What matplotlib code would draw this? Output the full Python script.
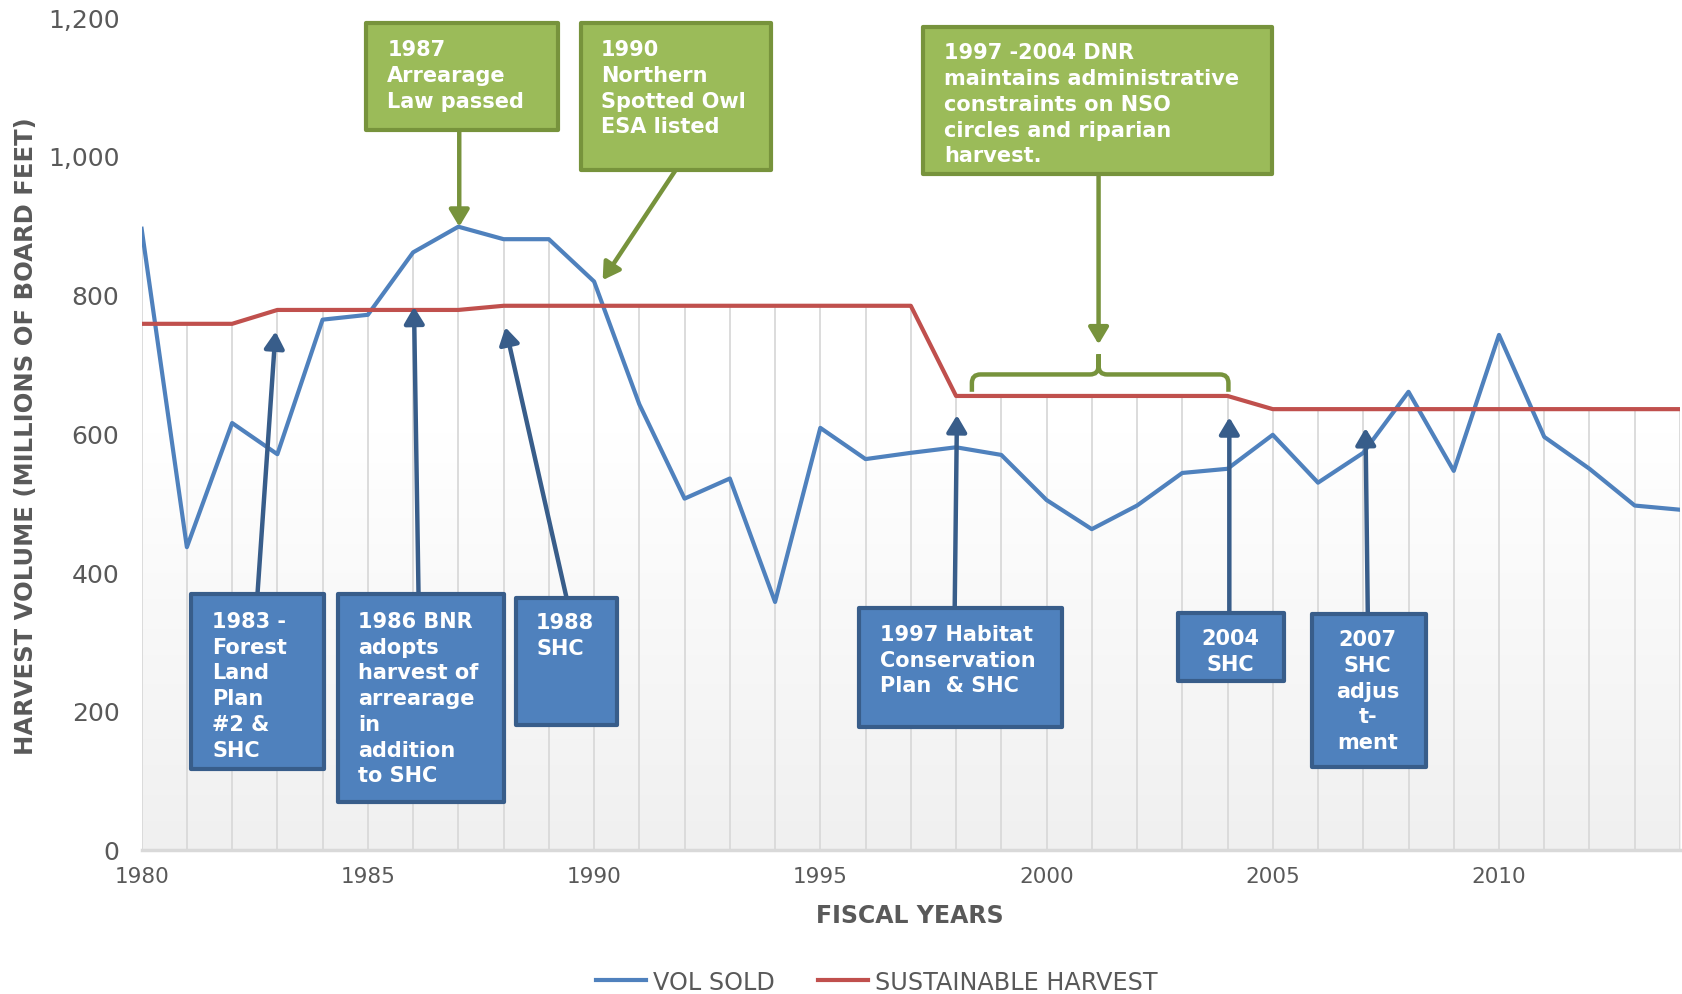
import matplotlib
matplotlib.use("Agg")
import matplotlib.pyplot as plt
import numpy as np
from matplotlib.patches import Rectangle, FancyArrowPatch, PathPatch
from matplotlib.path import Path
from matplotlib.colors import LinearSegmentedColormap

# ---------------- data ----------------
years = list(range(1980, 2015))
vol_sold = [895, 436, 615, 570, 764, 771, 861, 898, 880, 880,
            819, 642, 506, 535, 357, 608, 563, 572, 580, 569,
            504, 462, 496, 543, 549, 598, 529, 572, 660, 546,
            742, 595, 549, 496, 490]
sustainable = [758, 758, 758, 778, 778, 778, 778, 778, 784, 784,
               784, 784, 784, 784, 784, 784, 784, 784, 654, 654,
               654, 654, 654, 654, 654, 635, 635, 635, 635, 635,
               635, 635, 635, 635, 635]
xtick_years = [1980, 1985, 1990, 1995, 2000, 2005, 2010]
ytick_vals = [0, 200, 400, 600, 800, 1000, 1200]

BLUE = '#4f81bd'
RED = '#c0504d'
GREEN = '#9bbb59'
GREEN_DK = '#77933c'
BLUE_DK = '#385d8a'
GREY = '#595959'

# ---------------- figure ----------------
fig = plt.figure(figsize=(16.82, 9.95), dpi=100)
ax = fig.add_axes([0.0842, 0.1451, 0.9146, 0.8366])
ax.set_xlim(1980, 2014)
ax.set_ylim(0, 1200)

# plot area gradient (white at top, light grey at bottom)
cmap = LinearSegmentedColormap.from_list('bg', ['#ffffff', '#ffffff', '#f0f0f0'])
grad = np.linspace(0, 1, 256).reshape(-1, 1)
ax.imshow(grad, extent=[1980, 2014, 0, 1200], aspect='auto', cmap=cmap,
          vmin=0, vmax=1, zorder=0)

# drop lines
tops = np.maximum(vol_sold, sustainable)
ax.vlines(years, 0, tops, colors='#d9d9d9', lw=1.3, zorder=1)

ax.plot(years, vol_sold, color=BLUE, lw=3, label='VOL SOLD', zorder=3)
ax.plot(years, sustainable, color=RED, lw=3, label='SUSTAINABLE HARVEST', zorder=3)

for s in ['top', 'right', 'left']:
    ax.spines[s].set_visible(False)
ax.spines['bottom'].set_color('#d9d9d9')
ax.spines['bottom'].set_linewidth(2.5)
ax.set_xticks(xtick_years)
ax.set_yticks(ytick_vals)
ax.set_yticklabels([f'{v:,}' for v in ytick_vals])
ax.tick_params(axis='both', length=0, colors=GREY)
ax.tick_params(axis='y', labelsize=18, pad=16)
ax.tick_params(axis='x', labelsize=15.5, pad=12)

fig.text(25.7 / 1682, 1 - 436 / 995, 'HARVEST VOLUME (MILLIONS OF BOARD FEET)',
         rotation=90, ha='center', va='center', fontsize=17.5, fontweight='bold', color=GREY)
fig.text(910 / 1682, 1 - 915.6 / 995, 'FISCAL YEARS', ha='center', va='center',
         fontsize=17, fontweight='bold', color=GREY)

fig.legend(loc='center', bbox_to_anchor=(0.5214, 0.0125), bbox_transform=fig.transFigure,
           ncol=2, frameon=False, fontsize=17.2, labelcolor=GREY, handlelength=2.1,
           handletextpad=0.3, columnspacing=1.8)

# ---------------- annotations ----------------
STEP = 37.1  # line step in value units


def box(x0, x1, y0, y1, fc, ec):
    ax.add_patch(Rectangle((x0, y0), x1 - x0, y1 - y0, facecolor=fc, edgecolor=ec,
                           lw=3, zorder=6, joinstyle='round'))


def lines(x, ytop, txt, ha='left'):
    for i, t in enumerate(txt.split('\n')):
        ax.text(x, ytop - i * STEP - 11.6, t, ha=ha, va='baseline', color='white',
                fontsize=15, fontweight='bold', zorder=7)


def arrow(p0, p1, color):
    ax.add_patch(FancyArrowPatch(p0, p1, arrowstyle='-|>,head_length=0.5,head_width=0.3',
                                 mutation_scale=20, color=color, lw=3.2, zorder=5,
                                 shrinkA=0, shrinkB=0))


# green boxes (top)
box(1984.95, 1989.20, 1037.6, 1192.3, GREEN, GREEN_DK)
lines(1985.43, 1156.7, '1987\nArrearage\nLaw passed')
arrow((1987.02, 1037.6), (1987.02, 898), GREEN_DK)

box(1989.70, 1993.92, 980.4, 1192.3, GREEN, GREEN_DK)
lines(1990.15, 1156.7, '1990\nNorthern\nSpotted Owl\nESA listed')
arrow((1991.81, 980.4), (1990.19, 821), GREEN_DK)

box(1997.26, 2004.99, 974.3, 1186.1, GREEN, GREEN_DK)
lines(1997.73, 1152.1, '1997 -2004 DNR\nmaintains administrative\nconstraints on NSO\n'
      'circles and riparian\nharvest.')
arrow((2001.15, 974.3), (2001.15, 728.4), GREEN_DK)

# brace
xl, xr, xc = 1998.35, 2004.02, 2001.15
yb, yt, yn = 660, 685, 714
rx, ry = 0.19, 12.4
verts, codes = [], []
for xe, sgn in [(xl, 1), (xr, -1)]:
    verts += [(xe, yb), (xe, yt - ry), (xe, yt), (xe + sgn * rx, yt),
              (xc - sgn * rx, yt), (xc, yt), (xc, yt + ry), (xc, yn)]
    codes += [Path.MOVETO, Path.LINETO, Path.CURVE3, Path.CURVE3,
              Path.LINETO, Path.CURVE3, Path.CURVE3, Path.LINETO]
ax.add_patch(PathPatch(Path(verts, codes), facecolor='none', edgecolor=GREEN_DK,
                       lw=3.2, zorder=5, capstyle='butt'))

# blue boxes (bottom)
box(1981.09, 1984.03, 116.0, 368.0, BLUE, BLUE_DK)
lines(1981.56, 332.5, '1983 -\nForest\nLand\nPlan\n#2 &\nSHC')
arrow((1982.56, 368), (1982.96, 746.9), BLUE_DK)

box(1984.34, 1988.01, 68.0, 368.0, BLUE, BLUE_DK)
lines(1984.79, 332.5, '1986 BNR\nadopts\nharvest of\narrearage\nin\naddition\nto SHC')
arrow((1986.12, 368), (1986.02, 782.5), BLUE_DK)

box(1988.27, 1990.50, 179.4, 363.4, BLUE, BLUE_DK)
lines(1988.72, 330.9, '1988\nSHC')
arrow((1989.39, 363.4), (1988.04, 753), BLUE_DK)

box(1995.86, 2000.34, 176.3, 347.9, BLUE, BLUE_DK)
lines(1996.33, 313.9, '1997 Habitat\nConservation\nPlan  & SHC')
arrow((1997.97, 347.9), (1998.02, 626.3), BLUE_DK)

box(2002.90, 2005.25, 242.8, 341.8, BLUE, BLUE_DK)
lines(2004.06, 307.7, '2004\nSHC', ha='center')
arrow((2004.04, 341.8), (2004.04, 623.2), BLUE_DK)

box(2005.87, 2008.38, 119.1, 340.2, BLUE, BLUE_DK)
lines(2007.10, 306.2, '2007\nSHC\nadjus\nt-\nment', ha='center')
arrow((2007.10, 340.2), (2007.05, 607.7), BLUE_DK)

fig.savefig('out.png', dpi=100)
